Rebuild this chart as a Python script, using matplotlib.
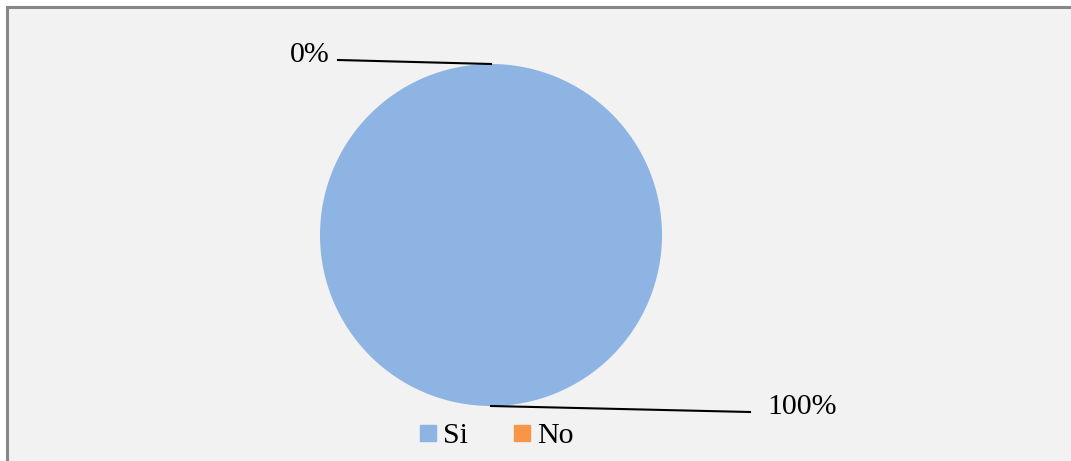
import numpy as np
import matplotlib.pyplot as plt
from matplotlib.lines import Line2D

# respuestas
categorias = ['Si', 'No']
valores = [100, 0]
etiquetas = ['100%', '0%']
colores = ['#8EB4E3', '#F79646']

plt.rcParams['font.family'] = ['Liberation Serif', 'DejaVu Serif']

W, H = 1071, 461
fig = plt.figure(figsize=(W / 100, H / 100), dpi=100)
fig.patch.set_facecolor('white')
ax = fig.add_axes([0, 0, 1, 1])

# fondo y borde del grafico (coordenadas en pixeles, y hacia arriba)
ax.add_patch(plt.Rectangle((7, -20), 1080, H - 7.5 + 20, facecolor='#F2F2F2',
                           edgecolor='#878787', linewidth=2.2, zorder=0))

cx, cy, r = 491, H - 235, 171
wedges, _ = ax.pie(valores, colors=colores, startangle=90, counterclock=False,
                   center=(cx, cy), radius=r, frame=True,
                   wedgeprops=dict(linewidth=0))
ax.set_xlim(0, W)
ax.set_ylim(0, H)
ax.set_aspect('equal')
ax.axis('off')

# etiquetas con lineas guia
desplaz = {'Si': (259, -6, 17), 'No': (-153, 4, -8)}
for w, cat, txt in zip(wedges, categorias, etiquetas):
    ang = np.deg2rad((w.theta1 + w.theta2) / 2)
    x0 = cx + r * np.cos(ang)
    y0 = cy + r * np.sin(ang)
    dx, dy, gap = desplaz[cat]
    x1, y1 = x0 + dx, y0 + dy
    ax.plot([x0, x1], [y0, y1], color='black', lw=1.5, zorder=3)
    ha = 'left' if dx > 0 else 'right'
    ax.text(x1 + gap, y1 + 5, txt, fontsize=21.5, ha=ha, va='center')

handles = [Line2D([], [], marker='s', linestyle='none', markersize=12,
                  markerfacecolor=c, markeredgecolor=c) for c in colores]
fig.legend(handles, categorias, loc='center', bbox_to_anchor=(495 / W, 1 - 436 / H),
           ncol=2, frameon=False, fontsize=21.5, handletextpad=0.1,
           columnspacing=1.4, handlelength=0.8)

fig.savefig('out.png', dpi=100)
